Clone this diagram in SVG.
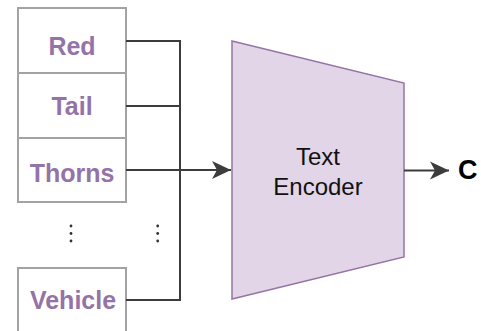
<svg xmlns="http://www.w3.org/2000/svg" width="481" height="331" viewBox="0 0 481 331">
  <style>
    .cell { fill: #ffffff; stroke: #a3a3a3; stroke-width: 2; }
    .label { font-family: "Liberation Sans", Arial, sans-serif; font-weight: bold; font-size: 25px; fill: #9473a8; text-anchor: middle; }
    .wire { fill: none; stroke: #3c3c3c; stroke-width: 2; }
    .dot { fill: #333333; }
    .enc { fill: #e1d5e7; stroke: #9673a6; stroke-width: 1.5; }
    .enc-text { font-family: "Liberation Sans", Arial, sans-serif; font-size: 24px; fill: #111111; text-anchor: middle; }
    .out { font-family: "Liberation Sans", Arial, sans-serif; font-weight: bold; font-size: 27px; fill: #000000; }
  </style>
  <defs>
    <marker id="arrow" viewBox="0 0 20 20" refX="19" refY="10" markerWidth="10" markerHeight="10" markerUnits="strokeWidth" orient="auto">
      <path d="M0,1 L19,10 L0,19 L5,10 Z" fill="#3c3c3c"/>
    </marker>
  </defs>
  <rect width="481" height="331" fill="#ffffff"/>

  <!-- word tokens -->
  <g id="token-red">
    <rect class="cell" x="18" y="8" width="108" height="65"/>
    <text class="label" x="72" y="55">Red</text>
  </g>
  <g id="token-tail">
    <rect class="cell" x="18" y="73" width="108" height="65"/>
    <text class="label" x="72" y="114.5">Tail</text>
  </g>
  <g id="token-thorns">
    <rect class="cell" x="18" y="138" width="108" height="64"/>
    <text class="label" x="72" y="181.5">Thorns</text>
  </g>
  <g id="token-vehicle">
    <rect class="cell" x="18" y="268" width="108" height="70"/>
    <text class="label" x="73" y="309">Vehicle</text>
  </g>

  <!-- ellipsis marks -->
  <g id="ellipsis">
    <circle class="dot" cx="71" cy="226" r="1.4"/>
    <circle class="dot" cx="71" cy="233.5" r="1.4"/>
    <circle class="dot" cx="71" cy="241" r="1.4"/>
    <circle class="dot" cx="157.7" cy="226" r="1.4"/>
    <circle class="dot" cx="157.7" cy="233.5" r="1.4"/>
    <circle class="dot" cx="157.7" cy="241" r="1.4"/>
  </g>

  <!-- encoder -->
  <g id="text-encoder">
    <polygon class="enc" points="232,41 404,83 404,257 232,299"/>
    <text class="enc-text" x="318" y="164.5">Text</text>
    <text class="enc-text" x="318" y="194.5">Encoder</text>
  </g>

  <!-- output -->
  <g id="output-c">
    <text class="out" x="458" y="179">C</text>
  </g>

  <!-- connectors -->
  <g id="connectors">
    <path class="wire" d="M126,41 H180 V300 H126"/>
    <path class="wire" d="M126,106 H180"/>
    <path class="wire" d="M126,170 H231" marker-end="url(#arrow)"/>
    <path class="wire" d="M404,170.5 H449" marker-end="url(#arrow)"/>
  </g>
</svg>
